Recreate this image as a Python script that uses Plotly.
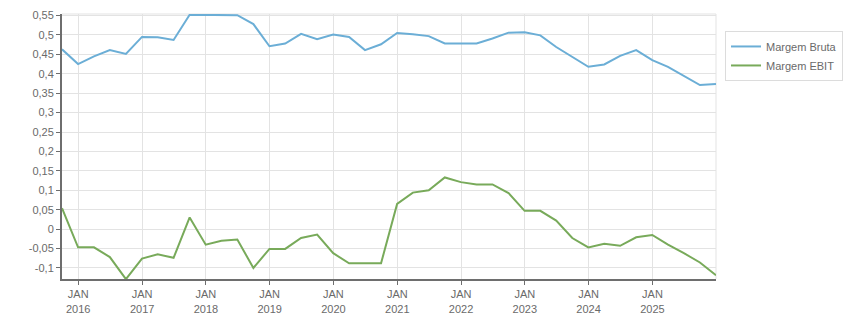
import plotly.graph_objects as go

dates = [
    "2015-09-30", "2015-12-31",
    "2016-03-31", "2016-06-30", "2016-09-30", "2016-12-31",
    "2017-03-31", "2017-06-30", "2017-09-30", "2017-12-31",
    "2018-03-31", "2018-06-30", "2018-09-30", "2018-12-31",
    "2019-03-31", "2019-06-30", "2019-09-30", "2019-12-31",
    "2020-03-31", "2020-06-30", "2020-09-30", "2020-12-31",
    "2021-03-31", "2021-06-30", "2021-09-30", "2021-12-31",
    "2022-03-31", "2022-06-30", "2022-09-30", "2022-12-31",
    "2023-03-31", "2023-06-30", "2023-09-30", "2023-12-31",
    "2024-03-31", "2024-06-30", "2024-09-30", "2024-12-31",
    "2025-03-31", "2025-06-30", "2025-09-30", "2025-12-31",
]

margem_bruta = [
    0.463, 0.425,
    0.445, 0.461, 0.451, 0.495,
    0.494, 0.487, 0.552, 0.552,
    0.551, 0.551, 0.528, 0.471,
    0.478, 0.503, 0.489, 0.501,
    0.495, 0.461, 0.476, 0.505,
    0.502, 0.497, 0.478, 0.478,
    0.478, 0.491, 0.506, 0.507,
    0.499, 0.469, 0.444, 0.418,
    0.424, 0.446, 0.461, 0.435,
    0.418, 0.394, 0.371, 0.374,
]

margem_ebit = [
    0.054, -0.047,
    -0.047, -0.072, -0.129, -0.076,
    -0.065, -0.074, 0.030, -0.040,
    -0.030, -0.027, -0.100, -0.051,
    -0.051, -0.023, -0.014, -0.062,
    -0.088, -0.088, -0.088, 0.065,
    0.094, 0.100, 0.133, 0.121,
    0.115, 0.115, 0.093, 0.047,
    0.047, 0.022, -0.023, -0.047,
    -0.038, -0.043, -0.021, -0.015,
    -0.040, -0.062, -0.086, -0.119,
]

x_tick_vals = ["2016-01-01", "2017-01-01", "2018-01-01", "2019-01-01", "2020-01-01",
               "2021-01-01", "2022-01-01", "2023-01-01", "2024-01-01", "2025-01-01"]
x_tick_text = ["JAN<br>2016", "JAN<br>2017", "JAN<br>2018", "JAN<br>2019", "JAN<br>2020",
               "JAN<br>2021", "JAN<br>2022", "JAN<br>2023", "JAN<br>2024", "JAN<br>2025"]

y_tick_vals = [-0.1, -0.05, 0, 0.05, 0.1, 0.15, 0.2, 0.25, 0.3, 0.35, 0.4, 0.45, 0.5, 0.55]
y_tick_text = ["-0,1", "-0,05", "0", "0,05", "0,1", "0,15", "0,2", "0,25", "0,3", "0,35",
               "0,4", "0,45", "0,5", "0,55"]

FONT = "Liberation Sans, Arial, sans-serif"

fig = go.Figure()
fig.add_trace(go.Scatter(x=dates, y=margem_bruta, mode="lines", name="Margem Bruta",
                         line=dict(color="#6baed6", width=2)))
fig.add_trace(go.Scatter(x=dates, y=margem_ebit, mode="lines", name="Margem EBIT",
                         line=dict(color="#78aa5a", width=2)))

fig.update_layout(
    width=851, height=313,
    margin=dict(l=62, r=135, t=14, b=34, autoexpand=False),
    paper_bgcolor="white", plot_bgcolor="white",
    font=dict(family=FONT, size=11, color="#6a6a6a"),
    separators=",.",
    showlegend=True,
    legend=dict(x=1.0138, y=0.936, xanchor="left", yanchor="top",
                bordercolor="#dcdcdc", borderwidth=1, bgcolor="white",
                font=dict(family=FONT, size=11, color="#6a6a6a"),
                tracegroupgap=0, itemwidth=30),
    xaxis=dict(
        type="date",
        range=["2015-09-30", "2025-12-31"],
        tickvals=x_tick_vals, ticktext=x_tick_text,
        showgrid=True, gridcolor="#e3e3e3", gridwidth=1,
        showline=True, linecolor="#6e6e6e", linewidth=2,
        ticks="outside", ticklen=4, tickcolor="#6e6e6e",
        tickfont=dict(family=FONT, size=11, color="#6a6a6a"),
        zeroline=False, automargin=False,
    ),
    yaxis=dict(
        range=[-0.1285, 0.554],
        tickvals=y_tick_vals, ticktext=y_tick_text,
        showgrid=True, gridcolor="#e3e3e3", gridwidth=1,
        showline=True, linecolor="#6e6e6e", linewidth=2,
        ticks="outside", ticklen=4, tickcolor="#6e6e6e",
        tickfont=dict(family=FONT, size=11, color="#6a6a6a"),
        zeroline=False, automargin=False,
    ),
    shapes=[
        dict(type="line", xref="paper", yref="paper", x0=0, x1=1, y0=1, y1=1,
             line=dict(color="#e3e3e3", width=1), layer="below"),
        dict(type="line", xref="paper", yref="paper", x0=1, x1=1, y0=0, y1=1,
             line=dict(color="#e3e3e3", width=1), layer="below"),
    ],
)

fig.write_html("out.html")
